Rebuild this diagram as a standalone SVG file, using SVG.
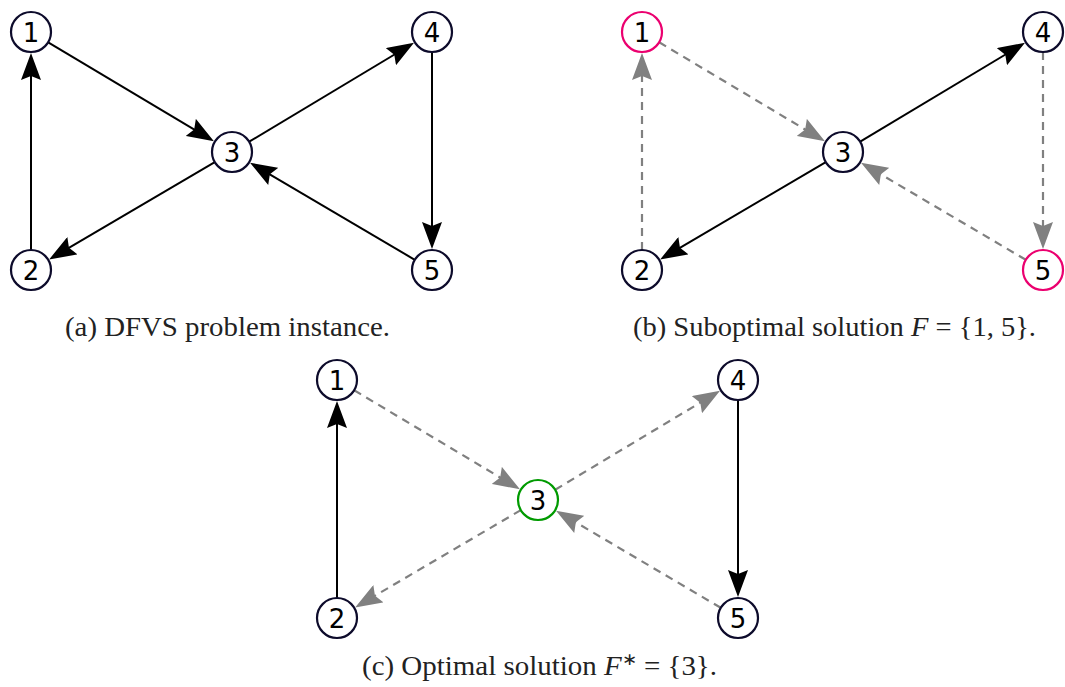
<svg xmlns="http://www.w3.org/2000/svg" width="1065" height="687" viewBox="0 0 1065 687">
<style>
.node circle{fill:#fff;stroke:#0d0b2b;stroke-width:2.2}
.node.pink circle{stroke:#eb006f}
.node.green circle{stroke:#009a00}
.node text{font-family:"DejaVu Sans",sans-serif;font-size:26px;text-anchor:middle;fill:#000}
.e{fill:none;stroke:#000;stroke-width:2;marker-end:url(#ab)}
.d{fill:none;stroke:#808080;stroke-width:2.2;stroke-dasharray:8 6;marker-end:url(#ag)}
.cap{font-family:"Liberation Serif","Times New Roman",serif;font-size:27px;fill:#222}
</style>
<defs>
<marker id="ab" markerUnits="userSpaceOnUse" markerWidth="28" markerHeight="20" refX="13" refY="10" orient="auto"><path d="M0,0 L27,10 L0,20 L4,10 z" fill="#000"/></marker>
<marker id="ag" markerUnits="userSpaceOnUse" markerWidth="28" markerHeight="20" refX="13" refY="10" orient="auto"><path d="M0,0 L27,10 L0,20 L4,10 z" fill="#808080"/></marker>
</defs>
<g id="panel-a">
<g id="edges-a">
<line class="e" x1="48.2" y1="42.3" x2="201.9" y2="134.1"/>
<line class="e" x1="249.2" y1="141.7" x2="402" y2="50"/>
<line class="e" x1="432" y1="52" x2="432" y2="235"/>
<line class="e" x1="414.8" y1="259.8" x2="262.1" y2="169.8"/>
<line class="e" x1="214.8" y1="162.1" x2="61.2" y2="252.3"/>
<line class="e" x1="31" y1="250" x2="31" y2="67"/>
</g>
<g id="a1" class="node"><circle cx="31" cy="32" r="20"/><text x="31" y="41.5">1</text></g>
<g id="a2" class="node"><circle cx="31" cy="270" r="20"/><text x="31" y="279.5">2</text></g>
<g id="a3" class="node"><circle cx="232" cy="152" r="20"/><text x="232" y="161.5">3</text></g>
<g id="a4" class="node"><circle cx="432" cy="32" r="20"/><text x="432" y="41.5">4</text></g>
<g id="a5" class="node"><circle cx="432" cy="270" r="20"/><text x="432" y="279.5">5</text></g>
</g>
<g id="panel-b" transform="translate(611,0)">
<g id="edges-b">
<line class="d" x1="48.2" y1="42.3" x2="201.9" y2="134.1"/>
<line class="e" x1="249.2" y1="141.7" x2="402" y2="50"/>
<line class="d" x1="432" y1="52" x2="432" y2="235"/>
<line class="d" x1="414.8" y1="259.8" x2="262.1" y2="169.8"/>
<line class="e" x1="214.8" y1="162.1" x2="61.2" y2="252.3"/>
<line class="d" x1="31" y1="250" x2="31" y2="67"/>
</g>
<g id="b1" class="node pink"><circle cx="31" cy="32" r="20"/><text x="31" y="41.5">1</text></g>
<g id="b2" class="node"><circle cx="31" cy="270" r="20"/><text x="31" y="279.5">2</text></g>
<g id="b3" class="node"><circle cx="232" cy="152" r="20"/><text x="232" y="161.5">3</text></g>
<g id="b4" class="node"><circle cx="432" cy="32" r="20"/><text x="432" y="41.5">4</text></g>
<g id="b5" class="node pink"><circle cx="432" cy="270" r="20"/><text x="432" y="279.5">5</text></g>
</g>
<g id="panel-c" transform="translate(306,348)">
<g id="edges-c">
<line class="d" x1="48.2" y1="42.3" x2="201.9" y2="134.1"/>
<line class="d" x1="249.2" y1="141.7" x2="402" y2="50"/>
<line class="e" x1="432" y1="52" x2="432" y2="235"/>
<line class="d" x1="414.8" y1="259.8" x2="262.1" y2="169.8"/>
<line class="d" x1="214.8" y1="162.1" x2="61.2" y2="252.3"/>
<line class="e" x1="31" y1="250" x2="31" y2="67"/>
</g>
<g id="c1" class="node"><circle cx="31" cy="32" r="20"/><text x="31" y="41.5">1</text></g>
<g id="c2" class="node"><circle cx="31" cy="270" r="20"/><text x="31" y="279.5">2</text></g>
<g id="c3" class="node green"><circle cx="232" cy="152" r="20"/><text x="232" y="161.5">3</text></g>
<g id="c4" class="node"><circle cx="432" cy="32" r="20"/><text x="432" y="41.5">4</text></g>
<g id="c5" class="node"><circle cx="432" cy="270" r="20"/><text x="432" y="279.5">5</text></g>
</g>
<g id="captions">
<text class="cap" x="65" y="336" textLength="325" lengthAdjust="spacingAndGlyphs">(a) DFVS problem instance.</text>
<text class="cap" x="633" y="336" textLength="403" lengthAdjust="spacingAndGlyphs">(b) Suboptimal solution <tspan font-style="italic">F</tspan> = {1, 5}.</text>
<text class="cap" x="362" y="675" textLength="355" lengthAdjust="spacingAndGlyphs">(c) Optimal solution <tspan font-style="italic">F</tspan><tspan dy="-10" font-size="17">∗</tspan><tspan dy="10"> = {3}.</tspan></text>
</g>
</svg>
